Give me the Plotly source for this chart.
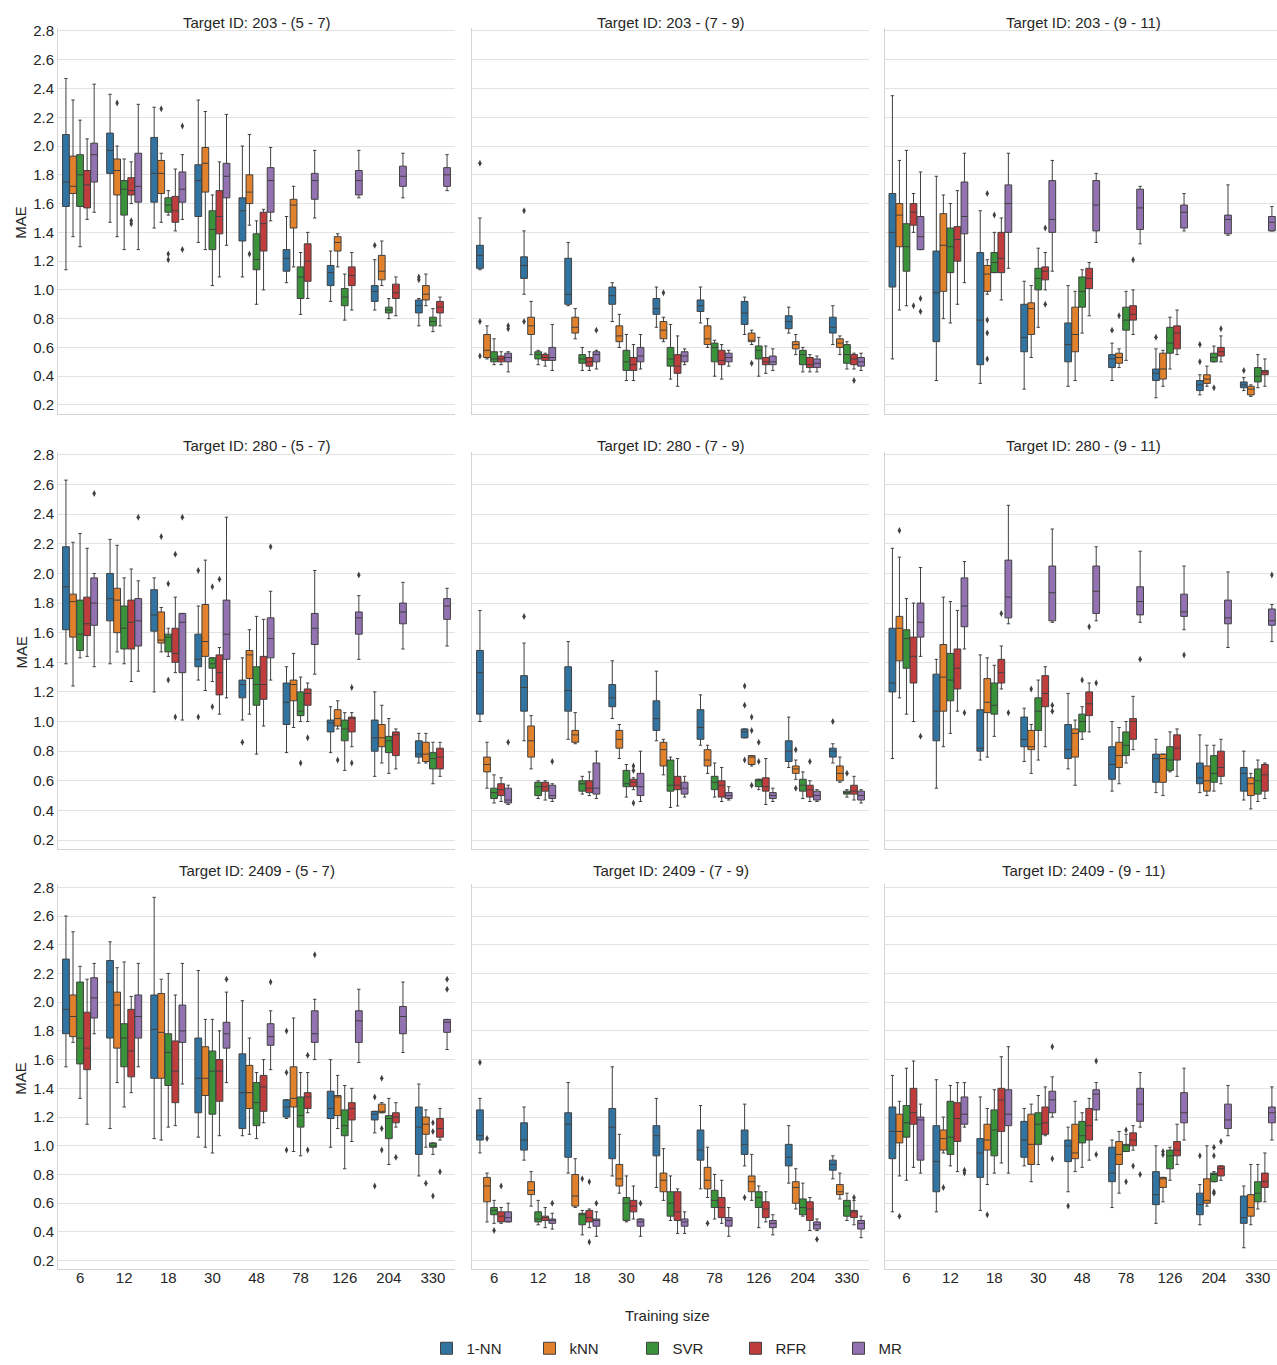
import plotly.graph_objects as go

# ---------------- data ----------------
SIZES = ["6", "12", "18", "30", "48", "78", "126", "204", "330"]
METHODS = ["1-NN", "kNN", "SVR", "RFR", "MR"]
TARGETS = ["203", "280", "2409"]
HORIZONS = ["5 - 7", "7 - 9", "9 - 11"]
COLORS = ["#3274a1", "#e1812c", "#3a923a", "#c03d3e", "#9372b2"]
Y_TICKS = [0.2, 0.4, 0.6, 0.8, 1.0, 1.2, 1.4, 1.6, 1.8, 2.0, 2.2, 2.4, 2.6, 2.8]

# each tuple per training size: (lower whisker, q1, median, q3, upper whisker)
# ---- Target 203, (5 - 7)
T203_A_1NN = [(1.14,1.58,1.75,2.08,2.47),(1.47,1.81,1.97,2.09,2.36),(1.43,1.61,1.81,2.06,2.27),(1.33,1.51,1.76,1.87,2.32),(1.09,1.34,1.55,1.64,2.00),(1.05,1.13,1.22,1.28,1.51),(0.92,1.03,1.12,1.17,1.27),(0.86,0.92,0.99,1.03,1.21),(0.75,0.84,0.89,0.93,0.94)]
T203_A_KNN = [(1.37,1.67,1.72,1.93,2.32),(1.37,1.66,1.83,1.91,2.00),(1.47,1.67,1.81,1.90,1.95),(1.28,1.68,1.88,1.99,2.24),(1.45,1.60,1.68,1.80,2.08),(1.16,1.43,1.59,1.63,1.72),(1.16,1.27,1.33,1.37,1.39),(1.03,1.07,1.13,1.24,1.34),(0.89,0.93,0.97,1.03,1.11)]
T203_A_SVR = [(1.30,1.58,1.80,1.94,2.18),(1.28,1.52,1.70,1.76,1.91),(1.52,1.54,1.59,1.64,1.69),(1.03,1.28,1.42,1.55,1.66),(0.90,1.14,1.21,1.39,1.48),(0.83,0.94,1.09,1.16,1.26),(0.79,0.89,0.95,1.01,1.11),(0.80,0.84,0.86,0.88,0.94),(0.71,0.75,0.78,0.81,0.87)]
T203_A_RFR = [(1.49,1.57,1.73,1.83,2.05),(1.60,1.66,1.69,1.78,1.89),(1.41,1.47,1.55,1.65,1.84),(1.09,1.39,1.51,1.69,1.89),(1.00,1.27,1.46,1.54,1.56),(0.94,1.06,1.20,1.32,1.40),(0.86,1.03,1.10,1.16,1.26),(0.82,0.94,0.98,1.04,1.09),(0.75,0.84,0.88,0.92,0.95)]
T203_A_MR = [(1.54,1.75,1.94,2.02,2.43),(1.28,1.61,1.72,1.95,2.29),(1.49,1.61,1.70,1.82,1.94),(1.31,1.64,1.79,1.88,2.22),(1.48,1.54,1.76,1.85,1.99),(1.50,1.63,1.76,1.81,1.97),(1.64,1.66,1.76,1.83,1.97),(1.64,1.72,1.79,1.86,1.95),(1.69,1.72,1.80,1.85,1.94)]
O203_A = [("kNN","12",2.30),("RFR","12",1.48),("RFR","12",1.46),("kNN","18",2.26),("SVR","18",1.25),("SVR","18",1.21),("MR","18",2.14),("MR","18",1.28),("kNN","48",1.25),("1-NN","204",1.31),("1-NN","330",1.07),("1-NN","330",1.09)]

# ---- Target 203, (7 - 9)
T203_B_1NN = [(1.14,1.15,1.24,1.31,1.50),(0.97,1.08,1.17,1.23,1.41),(0.89,0.90,0.97,1.22,1.33),(0.78,0.90,0.96,1.02,1.05),(0.74,0.83,0.87,0.94,1.02),(0.77,0.85,0.89,0.93,1.02),(0.69,0.76,0.84,0.92,0.95),(0.70,0.73,0.78,0.82,0.88),(0.62,0.70,0.74,0.81,0.89)]
T203_B_KNN = [(0.52,0.53,0.58,0.69,0.75),(0.55,0.69,0.75,0.81,0.92),(0.66,0.70,0.74,0.81,0.87),(0.60,0.64,0.68,0.75,0.83),(0.64,0.66,0.72,0.78,0.81),(0.60,0.62,0.66,0.75,0.80),(0.62,0.64,0.65,0.70,0.72),(0.55,0.59,0.62,0.64,0.69),(0.55,0.60,0.63,0.66,0.68)]
T203_B_SVR = [(0.48,0.50,0.52,0.57,0.66),(0.48,0.52,0.55,0.57,0.58),(0.44,0.49,0.52,0.55,0.60),(0.37,0.44,0.50,0.58,0.69),(0.38,0.47,0.52,0.60,0.76),(0.40,0.50,0.60,0.63,0.65),(0.40,0.52,0.58,0.61,0.67),(0.43,0.48,0.55,0.58,0.60),(0.45,0.49,0.55,0.62,0.64)]
T203_B_RFR = [(0.48,0.50,0.52,0.54,0.57),(0.47,0.51,0.53,0.55,0.56),(0.44,0.47,0.50,0.53,0.57),(0.37,0.44,0.48,0.53,0.62),(0.33,0.42,0.47,0.55,0.68),(0.38,0.48,0.51,0.58,0.62),(0.42,0.48,0.50,0.53,0.61),(0.43,0.46,0.48,0.53,0.55),(0.45,0.48,0.52,0.55,0.56)]
T203_B_MR = [(0.43,0.50,0.53,0.56,0.57),(0.44,0.51,0.53,0.60,0.76),(0.45,0.50,0.55,0.57,0.58),(0.45,0.50,0.54,0.60,0.69),(0.48,0.50,0.54,0.57,0.59),(0.47,0.50,0.53,0.56,0.58),(0.44,0.48,0.50,0.54,0.59),(0.43,0.46,0.49,0.52,0.54),(0.44,0.47,0.50,0.53,0.56)]
O203_B = [("1-NN","6",1.88),("1-NN","6",0.78),("1-NN","6",0.54),("MR","6",0.73),("MR","6",0.75),("1-NN","12",1.55),("1-NN","12",0.78),("MR","18",0.72),("kNN","48",0.98),("kNN","126",0.49),("RFR","330",0.37)]

# ---- Target 203, (9 - 11)
T203_C_1NN = [(0.52,1.02,1.40,1.67,2.35),(0.37,0.64,0.98,1.27,1.79),(0.35,0.48,0.79,1.26,1.55),(0.31,0.57,0.67,0.90,1.06),(0.33,0.50,0.62,0.77,1.03),(0.37,0.46,0.52,0.55,0.63),(0.25,0.37,0.42,0.45,0.59),(0.27,0.30,0.34,0.37,0.41),(0.30,0.32,0.34,0.36,0.39)]
T203_C_KNN = [(0.86,1.30,1.52,1.60,1.90),(0.80,0.99,1.31,1.53,1.66),(0.97,0.99,1.11,1.17,1.21),(0.53,0.69,0.87,0.91,1.03),(0.37,0.57,0.69,0.88,0.99),(0.46,0.49,0.53,0.56,0.59),(0.33,0.38,0.45,0.56,0.58),(0.33,0.35,0.38,0.41,0.47),(0.26,0.27,0.31,0.33,0.34)]
T203_C_SVR = [(0.89,1.13,1.30,1.46,1.97),(0.77,1.12,1.30,1.43,1.60),(1.12,1.12,1.19,1.26,1.40),(0.74,1.00,1.08,1.15,1.29),(0.70,0.88,0.99,1.09,1.14),(0.51,0.72,0.79,0.88,0.99),(0.45,0.56,0.63,0.74,0.81),(0.50,0.50,0.53,0.56,0.61),(0.32,0.36,0.40,0.46,0.55)]
T203_C_RFR = [(1.40,1.45,1.54,1.60,1.67),(0.90,1.20,1.35,1.44,1.69),(0.93,1.12,1.22,1.40,1.50),(1.00,1.07,1.13,1.16,1.26),(0.82,1.01,1.08,1.15,1.19),(0.69,0.79,0.83,0.89,1.00),(0.55,0.59,0.70,0.75,0.86),(0.50,0.54,0.57,0.60,0.68),(0.33,0.41,0.43,0.44,0.52)]
T203_C_MR = [(1.28,1.28,1.37,1.51,1.82),(1.05,1.39,1.51,1.75,1.95),(1.15,1.40,1.60,1.73,1.95),(1.13,1.40,1.49,1.76,1.90),(1.33,1.41,1.59,1.76,1.81),(1.32,1.42,1.57,1.70,1.72),(1.41,1.43,1.54,1.59,1.67),(1.38,1.39,1.49,1.52,1.73),(1.41,1.41,1.47,1.51,1.58)]
O203_C = [("RFR","6",0.89),("MR","6",0.94),("MR","6",0.85),("kNN","18",1.67),("kNN","18",0.79),("kNN","18",0.70),("kNN","18",0.52),("SVR","18",1.52),("RFR","30",1.43),("RFR","30",0.90),("1-NN","78",0.72),("kNN","78",0.82),("RFR","78",1.21),("1-NN","126",0.67),("1-NN","204",0.62),("1-NN","204",0.50),("SVR","204",0.32),("RFR","204",0.73),("1-NN","330",0.44)]

# ---- Target 280, (5 - 7)
T280_A_1NN = [(1.39,1.62,1.91,2.18,2.63),(1.39,1.68,1.83,2.00,2.23),(1.20,1.61,1.72,1.89,1.97),(1.28,1.37,1.42,1.59,1.78),(1.01,1.16,1.25,1.28,1.43),(0.79,0.98,1.13,1.26,1.37),(0.79,0.93,0.99,1.01,1.10),(0.63,0.80,0.89,1.01,1.20),(0.72,0.76,0.78,0.87,0.92)]
T280_A_KNN = [(1.24,1.57,1.81,1.86,2.21),(1.47,1.60,1.82,1.90,2.19),(1.47,1.53,1.55,1.74,1.77),(1.21,1.44,1.54,1.79,2.09),(1.05,1.29,1.45,1.48,1.62),(0.96,1.14,1.25,1.28,1.46),(0.95,0.97,1.02,1.08,1.14),(0.72,0.83,0.89,0.98,1.11),(0.72,0.73,0.78,0.86,0.92)]
T280_A_SVR = [(1.43,1.48,1.59,1.82,2.27),(1.39,1.49,1.63,1.78,1.97),(1.44,1.47,1.57,1.59,1.63),(1.27,1.36,1.39,1.43,1.43),(0.78,1.11,1.25,1.37,1.71),(1.00,1.04,1.07,1.20,1.30),(0.67,0.87,0.95,1.01,1.06),(0.65,0.79,0.87,0.90,1.02),(0.58,0.68,0.75,0.79,0.86)]
T280_A_RFR = [(1.44,1.58,1.66,1.84,2.17),(1.27,1.49,1.67,1.82,2.03),(1.33,1.40,1.46,1.63,1.84),(1.05,1.18,1.33,1.45,1.50),(0.97,1.15,1.25,1.44,1.69),(1.00,1.11,1.19,1.22,1.26),(0.83,0.93,1.02,1.03,1.06),(0.68,0.77,0.91,0.93,0.95),(0.63,0.68,0.76,0.82,0.86)]
T280_A_MR = [(1.37,1.65,1.80,1.97,2.00),(1.34,1.51,1.68,1.83,1.95),(1.01,1.33,1.67,1.73,1.73),(1.16,1.42,1.59,1.82,2.38),(1.28,1.43,1.56,1.70,1.88),(1.32,1.52,1.63,1.73,2.02),(1.42,1.59,1.70,1.74,1.85),(1.49,1.66,1.74,1.80,1.94),(1.51,1.69,1.78,1.83,1.90)]
O280_A = [("MR","6",2.54),("MR","12",2.38),("kNN","18",2.25),("SVR","18",1.93),("SVR","18",1.28),("RFR","18",2.13),("RFR","18",1.03),("MR","18",2.38),("1-NN","30",2.02),("1-NN","30",1.03),("SVR","30",1.91),("SVR","30",1.10),("RFR","30",1.96),("1-NN","48",0.86),("MR","48",2.18),("SVR","78",0.72),("RFR","78",0.89),("kNN","126",0.74),("RFR","126",1.23),("RFR","126",0.72),("MR","126",1.99)]

# ---- Target 280, (7 - 9)
T280_B_1NN = [(1.00,1.05,1.33,1.48,1.75),(0.87,1.07,1.23,1.31,1.53),(0.88,1.07,1.21,1.37,1.54),(1.02,1.10,1.16,1.25,1.41),(0.87,0.94,1.02,1.14,1.34),(0.84,0.88,0.96,1.08,1.18),(0.89,0.89,0.93,0.95,0.95),(0.69,0.73,0.80,0.87,1.03),(0.72,0.76,0.80,0.82,0.85)]
T280_B_KNN = [(0.55,0.66,0.71,0.76,0.86),(0.68,0.76,0.87,0.97,1.04),(0.85,0.86,0.91,0.94,1.06),(0.75,0.82,0.88,0.94,0.98),(0.64,0.70,0.81,0.86,0.88),(0.65,0.70,0.74,0.81,0.84),(0.70,0.71,0.76,0.77,0.77),(0.61,0.65,0.68,0.70,0.74),(0.59,0.60,0.65,0.70,0.76)]
T280_B_SVR = [(0.45,0.48,0.52,0.55,0.64),(0.48,0.50,0.56,0.59,0.60),(0.51,0.53,0.58,0.60,0.63),(0.49,0.56,0.58,0.67,0.71),(0.42,0.53,0.57,0.74,0.76),(0.49,0.54,0.59,0.63,0.72),(0.54,0.56,0.60,0.61,0.61),(0.48,0.53,0.57,0.61,0.66),(0.49,0.51,0.52,0.53,0.54)]
T280_B_RFR = [(0.46,0.50,0.54,0.58,0.62),(0.47,0.53,0.56,0.59,0.60),(0.50,0.52,0.55,0.60,0.66),(0.54,0.56,0.59,0.61,0.62),(0.43,0.54,0.57,0.63,0.75),(0.46,0.49,0.57,0.60,0.69),(0.44,0.53,0.56,0.62,0.75),(0.46,0.49,0.54,0.57,0.60),(0.47,0.51,0.53,0.57,0.63)]
T280_B_MR = [(0.44,0.45,0.47,0.55,0.57),(0.46,0.48,0.50,0.57,0.58),(0.48,0.51,0.55,0.72,0.80),(0.46,0.50,0.56,0.65,0.80),(0.49,0.51,0.55,0.59,0.63),(0.47,0.48,0.50,0.52,0.56),(0.46,0.48,0.50,0.52,0.55),(0.46,0.47,0.50,0.53,0.54),(0.45,0.47,0.50,0.53,0.54)]
O280_B = [("MR","6",0.86),("1-NN","12",1.71),("MR","12",0.73),("RFR","30",0.70),("RFR","30",0.67),("RFR","30",0.45),("1-NN","126",1.24),("1-NN","126",1.11),("1-NN","126",0.74),("kNN","126",1.03),("kNN","126",0.94),("kNN","126",0.57),("SVR","126",0.86),("SVR","126",0.73),("kNN","204",0.81),("kNN","204",0.55),("RFR","204",0.73),("1-NN","330",1.00),("SVR","330",0.65)]

# ---- Target 280, (9 - 11)
T280_C_1NN = [(0.75,1.20,1.26,1.63,2.17),(0.55,0.87,1.07,1.32,1.42),(0.74,0.80,0.82,1.08,1.45),(0.73,0.83,0.88,1.03,1.09),(0.68,0.75,0.81,0.98,1.19),(0.53,0.61,0.71,0.83,1.00),(0.52,0.59,0.75,0.78,0.88),(0.52,0.58,0.62,0.72,0.91),(0.47,0.53,0.65,0.69,0.80)]
T280_C_KNN = [(1.16,1.41,1.63,1.71,2.11),(0.83,1.07,1.30,1.52,1.84),(0.76,1.06,1.13,1.29,1.43),(0.65,0.81,0.83,0.94,0.98),(0.57,0.76,0.92,0.95,1.01),(0.58,0.69,0.77,0.86,0.96),(0.50,0.59,0.75,0.78,0.78),(0.50,0.53,0.60,0.70,0.84),(0.41,0.50,0.58,0.62,0.65)]
T280_C_SVR = [(1.05,1.36,1.56,1.62,1.83),(0.92,1.14,1.28,1.46,1.81),(0.90,1.05,1.11,1.26,1.38),(0.74,0.94,1.07,1.16,1.28),(0.88,0.93,1.00,1.05,1.10),(0.72,0.77,0.84,0.93,1.00),(0.66,0.67,0.74,0.83,0.93),(0.53,0.59,0.65,0.77,0.84),(0.46,0.51,0.60,0.68,0.74)]
T280_C_RFR = [(1.00,1.26,1.44,1.57,1.80),(1.07,1.22,1.36,1.49,1.75),(1.22,1.26,1.33,1.42,1.51),(0.83,1.10,1.19,1.31,1.37),(0.93,1.04,1.12,1.20,1.26),(0.81,0.88,1.00,1.02,1.17),(0.63,0.74,0.82,0.91,0.95),(0.58,0.63,0.69,0.80,0.88),(0.48,0.53,0.64,0.71,0.72)]
T280_C_MR = [(1.44,1.57,1.67,1.80,2.04),(1.49,1.64,1.78,1.97,2.08),(1.66,1.70,1.84,2.09,2.46),(1.67,1.68,1.87,2.05,2.30),(1.68,1.73,1.88,2.05,2.18),(1.67,1.72,1.81,1.91,2.15),(1.62,1.71,1.74,1.86,2.05),(1.50,1.66,1.70,1.82,2.01),(1.54,1.65,1.68,1.76,1.79)]
O280_C = [("kNN","6",2.29),("MR","6",0.90),("MR","12",1.06),("RFR","18",1.73),("MR","18",1.06),("kNN","30",1.22),("MR","30",1.11),("MR","30",1.07),("SVR","48",1.28),("RFR","48",1.64),("MR","48",1.26),("MR","78",1.42),("MR","126",1.45),("MR","330",1.99)]

# ---- Target 2409, (5 - 7)
T2409_A_1NN = [(1.55,1.78,1.95,2.30,2.60),(1.12,1.75,2.14,2.29,2.42),(1.05,1.47,1.81,2.05,2.73),(1.06,1.23,1.47,1.75,2.22),(1.07,1.12,1.37,1.64,2.01),(1.19,1.20,1.27,1.32,1.32),(0.99,1.19,1.26,1.38,1.60),(1.09,1.18,1.22,1.24,1.24),(0.79,0.94,1.13,1.27,1.43)]
T2409_A_KNN = [(1.72,1.76,1.90,2.05,2.49),(1.44,1.68,1.98,2.07,2.24),(1.04,1.47,1.79,2.06,2.16),(0.99,1.35,1.47,1.69,1.88),(1.08,1.26,1.37,1.56,1.75),(0.96,1.27,1.33,1.55,1.89),(1.12,1.21,1.34,1.35,1.49),(1.23,1.23,1.24,1.29,1.30),(0.99,1.08,1.15,1.20,1.25)]
T2409_A_SVR = [(1.33,1.57,1.75,2.14,2.25),(1.27,1.55,1.75,1.85,2.28),(1.13,1.42,1.65,1.78,2.20),(0.95,1.22,1.52,1.66,1.88),(1.05,1.14,1.30,1.44,1.51),(0.93,1.13,1.21,1.34,1.51),(0.84,1.07,1.14,1.25,1.42),(0.87,1.05,1.19,1.21,1.33),(0.94,0.99,1.00,1.02,1.02)]
T2409_A_RFR = [(1.15,1.53,1.68,1.93,2.16),(1.37,1.48,1.66,1.95,2.04),(1.14,1.30,1.52,1.73,2.05),(1.07,1.31,1.52,1.60,1.80),(1.16,1.24,1.41,1.49,1.60),(1.23,1.26,1.34,1.37,1.51),(1.03,1.18,1.26,1.30,1.40),(1.13,1.16,1.20,1.23,1.30),(1.04,1.06,1.12,1.19,1.26)]
T2409_A_MR = [(1.78,1.89,2.03,2.17,2.27),(1.55,1.75,1.90,2.05,2.27),(1.43,1.72,1.80,1.98,2.27),(1.44,1.68,1.78,1.86,2.07),(1.53,1.70,1.76,1.85,1.94),(1.60,1.72,1.78,1.94,2.02),(1.58,1.72,1.87,1.94,2.09),(1.65,1.78,1.90,1.97,2.14),(1.67,1.79,1.86,1.88,1.88)]
O2409_A = [("MR","30",2.16),("MR","48",2.14),("1-NN","78",1.80),("1-NN","78",1.51),("1-NN","78",0.97),("RFR","78",1.63),("RFR","78",0.97),("MR","78",2.33),("1-NN","204",1.34),("1-NN","204",0.72),("kNN","204",1.47),("kNN","204",1.12),("kNN","204",0.97),("RFR","204",0.92),("kNN","330",0.74),("SVR","330",1.16),("SVR","330",1.10),("SVR","330",0.65),("RFR","330",0.82),("MR","330",2.16),("MR","330",2.09)]

# ---- Target 2409, (7 - 9)
T2409_B_1NN = [(0.95,1.04,1.07,1.25,1.33),(0.90,0.97,1.04,1.16,1.27),(0.81,0.92,1.15,1.23,1.44),(0.79,0.91,1.13,1.26,1.55),(0.71,0.93,1.07,1.14,1.33),(0.70,0.90,0.97,1.11,1.28),(0.86,0.94,1.01,1.11,1.29),(0.74,0.86,0.92,1.01,1.14),(0.77,0.83,0.87,0.90,0.93)]
T2409_B_KNN = [(0.47,0.61,0.72,0.78,0.81),(0.58,0.66,0.69,0.75,0.82),(0.57,0.58,0.65,0.80,0.91),(0.67,0.72,0.77,0.87,1.08),(0.62,0.68,0.76,0.81,0.98),(0.64,0.70,0.76,0.85,0.99),(0.62,0.68,0.75,0.79,0.94),(0.56,0.60,0.71,0.75,0.84),(0.63,0.66,0.68,0.73,0.81)]
T2409_B_SVR = [(0.46,0.52,0.55,0.57,0.62),(0.45,0.47,0.49,0.54,0.62),(0.38,0.45,0.52,0.53,0.55),(0.47,0.48,0.60,0.64,0.79),(0.48,0.51,0.60,0.68,0.79),(0.49,0.57,0.62,0.69,0.80),(0.43,0.57,0.64,0.68,0.72),(0.51,0.52,0.57,0.63,0.74),(0.48,0.51,0.58,0.62,0.67)]
T2409_B_RFR = [(0.46,0.47,0.51,0.54,0.57),(0.43,0.48,0.50,0.51,0.57),(0.43,0.47,0.50,0.55,0.56),(0.49,0.54,0.58,0.62,0.72),(0.39,0.48,0.54,0.68,0.70),(0.46,0.50,0.57,0.64,0.76),(0.47,0.50,0.56,0.61,0.68),(0.41,0.48,0.56,0.61,0.64),(0.45,0.50,0.54,0.55,0.62)]
T2409_B_MR = [(0.47,0.47,0.50,0.54,0.60),(0.42,0.46,0.48,0.49,0.53),(0.37,0.44,0.48,0.49,0.54),(0.37,0.44,0.47,0.49,0.49),(0.39,0.44,0.47,0.49,0.54),(0.37,0.44,0.48,0.50,0.57),(0.38,0.43,0.46,0.48,0.52),(0.41,0.42,0.45,0.47,0.49),(0.36,0.42,0.46,0.48,0.51)]
O2409_B = [("1-NN","6",1.58),("kNN","6",1.05),("SVR","6",0.41),("RFR","6",0.72),("MR","12",0.60),("SVR","18",0.77),("RFR","18",0.75),("RFR","18",0.33),("MR","18",0.60),("MR","30",0.60),("kNN","78",0.46),("1-NN","126",0.64),("MR","204",0.35),("RFR","330",0.64)]

# ---- Target 2409, (9 - 11)
T2409_C_1NN = [(0.54,0.91,1.10,1.27,1.49),(0.54,0.68,0.89,1.14,1.46),(0.55,0.78,0.95,1.05,1.34),(0.86,0.92,1.04,1.17,1.26),(0.68,0.89,1.00,1.04,1.13),(0.57,0.75,0.81,0.99,1.04),(0.46,0.59,0.66,0.82,1.00),(0.45,0.52,0.59,0.67,0.73),(0.29,0.46,0.50,0.65,0.72)]
T2409_C_KNN = [(0.79,1.02,1.10,1.22,1.31),(0.95,0.97,1.05,1.11,1.20),(0.73,0.97,1.04,1.15,1.26),(0.75,0.87,1.01,1.22,1.29),(0.82,0.91,0.95,1.15,1.31),(0.67,0.87,0.94,1.03,1.10),(0.61,0.71,0.77,0.78,0.78),(0.58,0.60,0.62,0.77,1.00),(0.45,0.51,0.57,0.66,0.87)]
T2409_C_SVR = [(0.76,1.06,1.16,1.28,1.54),(0.86,0.94,1.06,1.31,1.42),(0.81,0.93,1.11,1.25,1.39),(0.87,1.01,1.15,1.23,1.35),(0.85,1.02,1.07,1.17,1.23),(0.96,0.96,1.00,1.01,1.08),(0.76,0.84,0.93,0.97,0.99),(0.75,0.75,0.80,0.81,0.82),(0.56,0.61,0.67,0.75,0.87)]
T2409_C_RFR = [(0.85,1.15,1.23,1.40,1.59),(0.82,1.03,1.19,1.30,1.44),(0.88,1.10,1.32,1.40,1.62),(1.07,1.08,1.16,1.27,1.41),(0.90,1.04,1.14,1.26,1.33),(0.97,1.00,1.04,1.09,1.14),(0.87,0.93,0.97,1.03,1.15),(0.76,0.79,0.84,0.86,0.86),(0.61,0.71,0.75,0.81,0.95)]
T2409_C_MR = [(0.81,0.90,1.18,1.20,1.29),(1.13,1.15,1.22,1.34,1.44),(0.81,1.14,1.22,1.39,1.69),(1.20,1.23,1.32,1.38,1.48),(1.18,1.25,1.36,1.39,1.44),(1.13,1.17,1.29,1.40,1.51),(1.04,1.16,1.23,1.37,1.54),(1.07,1.12,1.18,1.29,1.42),(1.04,1.16,1.23,1.27,1.41)]
O2409_C = [("kNN","6",0.51),("kNN","12",0.71),("MR","12",0.83),("MR","12",0.81),("kNN","18",0.52),("MR","30",1.69),("MR","30",0.91),("1-NN","48",0.58),("MR","48",1.59),("MR","48",0.94),("SVR","78",1.11),("SVR","78",0.75),("RFR","78",0.86),("MR","78",0.80),("kNN","126",0.96),("kNN","126",0.94),("1-NN","204",0.93),("SVR","204",0.99),("SVR","204",0.93),("SVR","204",0.68),("SVR","204",0.67),("RFR","204",1.03)]

PANELS = [
    [([T203_A_1NN, T203_A_KNN, T203_A_SVR, T203_A_RFR, T203_A_MR], O203_A),
     ([T203_B_1NN, T203_B_KNN, T203_B_SVR, T203_B_RFR, T203_B_MR], O203_B),
     ([T203_C_1NN, T203_C_KNN, T203_C_SVR, T203_C_RFR, T203_C_MR], O203_C)],
    [([T280_A_1NN, T280_A_KNN, T280_A_SVR, T280_A_RFR, T280_A_MR], O280_A),
     ([T280_B_1NN, T280_B_KNN, T280_B_SVR, T280_B_RFR, T280_B_MR], O280_B),
     ([T280_C_1NN, T280_C_KNN, T280_C_SVR, T280_C_RFR, T280_C_MR], O280_C)],
    [([T2409_A_1NN, T2409_A_KNN, T2409_A_SVR, T2409_A_RFR, T2409_A_MR], O2409_A),
     ([T2409_B_1NN, T2409_B_KNN, T2409_B_SVR, T2409_B_RFR, T2409_B_MR], O2409_B),
     ([T2409_C_1NN, T2409_C_KNN, T2409_C_SVR, T2409_C_RFR, T2409_C_MR], O2409_C)],
]

# ---------------- layout geometry ----------------
W, H = 1277, 1365
COL_PX = [(58, 455), (472, 869), (884.5, 1277)]
ROW_PX = [(28.1, 413.6), (452.0, 848.9), (884.4, 1269.3)]
X_RANGES = [[-0.5, 8.5], [-0.5, 8.5], [-0.5, 8.436]]
Y_RANGE = [0.14, 2.82]
TITLE_Y = [22, 446, 871]
TITLE_X = [256.5, 670.5, 1083]
GROUP_W = 0.8                      # seaborn dodge width per category
SLOT = GROUP_W / len(METHODS)      # one hue slot
BOX_W = SLOT * 0.96

LINE = "#404040"
FONT = "Liberation Sans, Arial, Helvetica, sans-serif"
TXT = "#262626"
FS = 15

fig = go.Figure()
layout = dict(
    width=W, height=H,
    margin=dict(l=0, r=0, t=0, b=0, autoexpand=False),
    paper_bgcolor="white", plot_bgcolor="white",
    font=dict(family=FONT, size=FS, color=TXT),
    boxmode="overlay",
    showlegend=True,
    legend=dict(orientation="h", x=684 / W, xanchor="center",
                y=0.0, yanchor="bottom", entrywidth=58,
                font=dict(size=FS, color=TXT), bgcolor="rgba(0,0,0,0)",
                borderwidth=0, itemclick=False, itemdoubleclick=False),
)
annotations = []

for r in range(3):
    for c in range(3):
        k = r * 3 + c + 1
        sfx = "" if k == 1 else str(k)
        stats, outs = PANELS[r][c]
        for mi, m in enumerate(METHODS):
            s = stats[mi]
            off = -GROUP_W / 2 + SLOT * (mi + 0.5)
            pos = [i + off for i in range(len(SIZES))]
            fig.add_trace(go.Box(
                x=pos,
                lowerfence=[t[0] for t in s],
                q1=[t[1] for t in s],
                median=[t[2] for t in s],
                q3=[t[3] for t in s],
                upperfence=[t[4] for t in s],
                width=BOX_W, boxpoints=False,
                name=m, legendgroup=m, showlegend=(k == 1),
                fillcolor=COLORS[mi],
                line=dict(color=LINE, width=1),
                whiskerwidth=0.5,
                xaxis="x" + sfx, yaxis="y" + sfx,
                hoverinfo="skip",
            ))
            ox = [SIZES.index(ss) + off for (mm, ss, v) in outs if mm == m]
            oy = [v for (mm, ss, v) in outs if mm == m]
            if ox:
                fig.add_trace(go.Scatter(
                    x=ox, y=oy, mode="markers",
                    marker=dict(symbol="diamond-tall", size=5, color=LINE,
                                line=dict(width=0)),
                    showlegend=False, legendgroup=m, hoverinfo="skip",
                    xaxis="x" + sfx, yaxis="y" + sfx,
                ))
        x0, x1 = COL_PX[c]
        y0, y1 = ROW_PX[r]
        layout["xaxis" + sfx] = dict(
            domain=[x0 / W, x1 / W], anchor="y" + sfx,
            type="linear", range=X_RANGES[c],
            tickmode="array", tickvals=list(range(len(SIZES))), ticktext=SIZES,
            showgrid=False, zeroline=False,
            showline=True, linecolor="#d4d4d4", linewidth=1,
            ticks="", showticklabels=(r == 2), ticklabelstandoff=-5,
            tickfont=dict(size=FS, color=TXT), automargin=False, fixedrange=True,
        )
        layout["yaxis" + sfx] = dict(
            domain=[1 - y1 / H, 1 - y0 / H], anchor="x" + sfx,
            range=Y_RANGE, tickmode="array", tickvals=Y_TICKS,
            ticktext=["%.1f" % v for v in Y_TICKS],
            showgrid=True, gridcolor="#e3e3e3", gridwidth=1, zeroline=False,
            showline=True, linecolor="#d4d4d4", linewidth=1,
            ticks="", showticklabels=(c == 0),
            tickfont=dict(size=FS, color=TXT), automargin=False, fixedrange=True,
        )
        annotations.append(dict(
            text="Target ID: %s - (%s)" % (TARGETS[r], HORIZONS[c]),
            x=TITLE_X[c] / W, y=1 - TITLE_Y[r] / H, xref="paper", yref="paper",
            xanchor="center", yanchor="middle", showarrow=False,
            font=dict(size=FS, color=TXT),
        ))
    annotations.append(dict(
        text="MAE", x=21 / W, y=1 - ((ROW_PX[r][0] + ROW_PX[r][1]) / 2 + 2) / H,
        xref="paper", yref="paper", xanchor="center", yanchor="middle",
        textangle=-90, showarrow=False, font=dict(size=FS, color=TXT),
    ))

annotations.append(dict(
    text="Training size", x=667 / W, y=1 - 1315 / H, xref="paper", yref="paper",
    xanchor="center", yanchor="middle", showarrow=False,
    font=dict(size=FS, color=TXT),
))
layout["annotations"] = annotations
fig.update_layout(**layout)

fig.write_html("out.html", config={"displayModeBar": False},
               post_script="document.body.style.margin='0';document.body.style.overflow='hidden';")
